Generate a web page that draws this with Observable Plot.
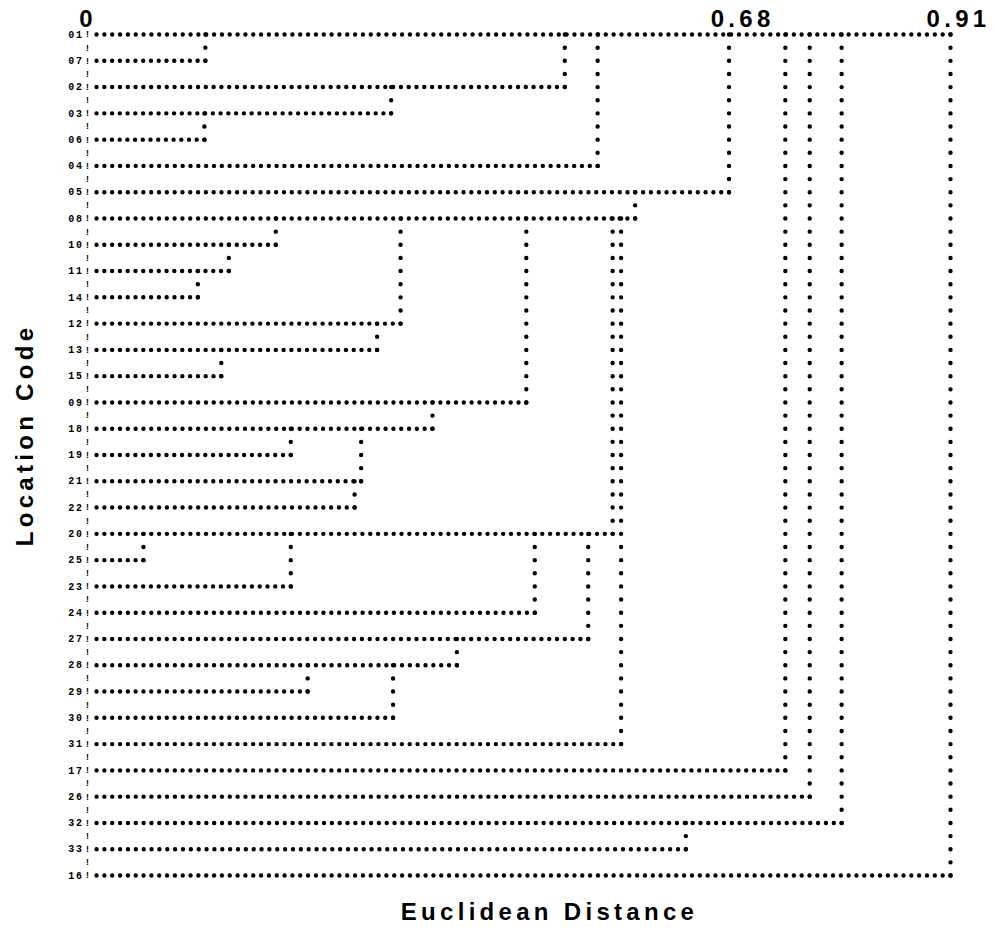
<!DOCTYPE html>
<html>
<head>
<meta charset="utf-8">
<script src="https://cdn.jsdelivr.net/npm/d3@7"></script>
<script src="https://cdn.jsdelivr.net/npm/@observablehq/plot@0.6"></script>
<style>
  body { margin: 0; background: #fff; }
  #chart svg { display: block; }
</style>
</head>
<body>
<div id="chart"></div>
<script>
// Leaf order (top to bottom) of the dendrogram
const codes = ["01","07","02","03","06","04","05","08","10","11","14","12","13","15","09",
  "18","19","21","22","20","25","23","24","27","28","29","30","31","17","26","32","33","16"];
// Euclidean distance at which each location joins the locations listed above it
const joinDistance = [null, 0.116, 0.499, 0.314, 0.115, 0.534, 0.674, 0.574, 0.191, 0.141,
  0.108, 0.324, 0.299, 0.133, 0.458, 0.358, 0.207, 0.282, 0.275, 0.550, 0.050, 0.207,
  0.467, 0.524, 0.384, 0.225, 0.316, 0.559, 0.734, 0.760, 0.794, 0.628, 0.910];
const zeroTick = [0];
const topTicks = [0.68, 0.91];
const xTitle = "Euclidean Distance";
const yTitle = "Location Code";

const maxD = d3.max(joinDistance);
const rows = codes.map((code, i) => ({code, i, h: i === 0 ? maxD : joinDistance[i]}));
// vertical connector: from a row up to the nearest row above that reaches further
const verticals = rows.slice(1).map(r => {
  let j = r.i - 1;
  while (j > 0 && rows[j].h <= r.h) j--;
  return {h: r.h, i: r.i, j};
});
const bangs = d3.range(0, codes.length - 0.75, 0.5);

const big = {fontFamily: "'Liberation Sans', Arial, Helvetica, sans-serif", fontWeight: "bold", fontSize: 24, fill: "#000"};
const mono = {fontFamily: "'Liberation Mono', 'DejaVu Sans Mono', monospace", fontWeight: "bold", fill: "#000"};
const dotStyle = {stroke: "#000", strokeWidth: 4.4, strokeLinecap: "round"};

const chart = Plot.plot({
  width: 995,
  height: 937,
  marginLeft: 96,
  marginRight: 45,
  marginTop: 34,
  marginBottom: 62,
  x: {domain: [0, 0.91], range: [96, 950], axis: null},
  y: {domain: [0, codes.length - 1], range: [34, 875], axis: null},
  marks: [
    Plot.link(rows, {x1: "h", x2: () => 0, y1: "i", y2: "i", ...dotStyle, strokeDasharray: "0 7.83",
      className: "rowline"}),
    Plot.link(verticals, {x1: "h", x2: "h", y1: "i", y2: "j", ...dotStyle, strokeDasharray: "0 13.14",
      className: "colline"}),
    Plot.text(bangs, {x: () => 0, y: d => d, text: () => "!", dx: -9, fontSize: 9, ...mono}),
    Plot.text(rows, {x: () => 0, y: "i", text: "code", dx: -13, textAnchor: "end", fontSize: 10, ...mono,
      className: "rowlab"}),
    Plot.text(zeroTick, {x: d => d, frameAnchor: "top", lineAnchor: "middle", dy: -15.5, dx: -8.5,
      text: d => "0", ...big, className: "big"}),
    Plot.text(topTicks, {x: d => d, frameAnchor: "top", lineAnchor: "middle", dy: -15.5, dx: 8,
      text: d => d3.format(".2f")(d), ...big, className: "big"}),
    Plot.text([xTitle], {frameAnchor: "bottom", lineAnchor: "bottom", dy: 44, dx: 26, text: d => d, ...big, className: "big"}),
    Plot.text([yTitle], {frameAnchor: "left", textAnchor: "middle", lineAnchor: "middle", rotate: -90,
      dx: -71, dy: -20, text: d => d, ...big, className: "big"})
  ]
});
chart.querySelectorAll(".big").forEach(g => g.style.letterSpacing = "4.3px");
chart.querySelectorAll(".rowlab").forEach(g => g.style.letterSpacing = "1.6px");
document.getElementById("chart").appendChild(chart);
// spread each line's dots evenly so that both ends carry a dot, like the printed grid
function spread(selector, step) {
  chart.querySelectorAll(selector + " path").forEach(p => {
    const L = p.getTotalLength();
    const n = Math.max(1, Math.round(L / step));
    p.setAttribute("stroke-dasharray", `0 ${(L - 0.05) / n}`);
  });
}
spread(".rowline", 7.83);
spread(".colline", 13.14);
</script>
</body>
</html>
